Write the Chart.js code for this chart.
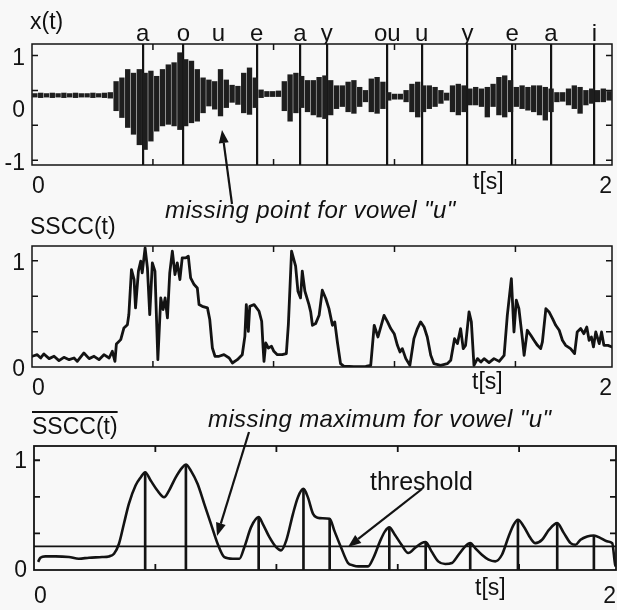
<!DOCTYPE html>
<html><head><meta charset="utf-8">
<script src="https://cdn.jsdelivr.net/npm/chart.js@4.4.1/dist/chart.umd.min.js"></script>
<style>
html,body{margin:0;padding:0;background:#f8f8f8;}
#wrap{position:relative;width:617px;height:610px;overflow:hidden;font-family:"Liberation Sans",Arial,sans-serif;color:#111;}
canvas{position:absolute;left:0;}
.lbl{position:absolute;white-space:nowrap;line-height:1;}
.it{font-style:italic;}
svg{position:absolute;left:0;top:0;}
</style></head><body>
<div id="wrap">
<canvas id="c1" width="617" height="200" style="top:0px"></canvas>
<canvas id="c2" width="617" height="200" style="top:200px"></canvas>
<canvas id="c3" width="617" height="210" style="top:400px"></canvas>
<div class="lbl" style="left:30px;top:10px;font-size:23px">x(t)</div>
<div class="lbl" style="left:473px;top:170px;font-size:23px">t[s]</div>
<div class="lbl it" style="left:165px;top:198px;font-size:24px;letter-spacing:0.4px">missing point for vowel "u"</div>
<div class="lbl" style="left:30px;top:215px;font-size:23px">SSCC(t)</div>
<div class="lbl" style="left:472px;top:370px;font-size:23px">t[s]</div>
<div class="lbl" style="left:32px;top:415px;font-size:23px;text-decoration:overline;text-decoration-thickness:1.5px">SSCC(t)</div>
<div class="lbl it" style="left:208px;top:407px;font-size:24px;letter-spacing:0.4px">missing maximum for vowel "u"</div>
<div class="lbl" style="left:370px;top:469px;font-size:25px">threshold</div>
<div class="lbl" style="left:475px;top:576px;font-size:23px">t[s]</div>
<svg id="arrows" width="617" height="610"></svg>
</div>
<script>
// ---------------- data ----------------
// vowel markers (panel 1)
const vowelNames = ['a','o','u','e','a','y','ou','u','y','e','a','i'];
const vowelTimes = [0.382,0.522,0.643,0.775,0.924,1.016,1.225,1.344,1.502,1.656,1.789,1.939];
const vowelMarked = [true,true,false,true,true,true,true,true,true,true,true,true];

// x(t) waveform envelope, 20 ms bins (centre time, lower and upper envelope)
const waveT = [0.01,0.03,0.05,0.07,0.09,0.11,0.13,0.15,0.17,0.19,0.21,0.23,0.25,0.27,0.29,0.31,0.33,0.35,0.37,0.39,
  0.41,0.43,0.45,0.47,0.49,0.51,0.53,0.55,0.57,0.59,0.61,0.63,0.65,0.67,0.69,0.71,0.73,0.75,0.77,0.79,
  0.81,0.83,0.85,0.87,0.89,0.91,0.93,0.95,0.97,0.99,1.01,1.03,1.05,1.07,1.09,1.11,1.13,1.15,1.17,1.19,
  1.21,1.23,1.25,1.27,1.29,1.31,1.33,1.35,1.37,1.39,1.41,1.43,1.45,1.47,1.49,1.51,1.53,1.55,1.57,1.59,
  1.61,1.63,1.65,1.67,1.69,1.71,1.73,1.75,1.77,1.79,1.81,1.83,1.85,1.87,1.89,1.91,1.93,1.95,1.97,1.99];
const waveHi = [0.28,0.29,0.28,0.29,0.28,0.29,0.28,0.29,0.28,0.28,0.29,0.28,0.29,0.30,0.51,0.58,0.74,0.67,0.74,0.67,
  0.71,0.61,0.74,0.83,0.87,1.06,0.93,0.90,0.74,0.58,0.54,0.51,0.74,0.54,0.44,0.42,0.67,0.77,0.58,0.35,
  0.32,0.32,0.33,0.51,0.64,0.67,0.61,0.53,0.53,0.59,0.62,0.53,0.43,0.43,0.50,0.53,0.40,0.34,0.56,0.59,
  0.50,0.30,0.27,0.27,0.34,0.46,0.50,0.43,0.43,0.40,0.34,0.29,0.43,0.46,0.43,0.37,0.40,0.37,0.40,0.46,
  0.59,0.62,0.53,0.40,0.43,0.40,0.43,0.43,0.40,0.37,0.30,0.30,0.37,0.43,0.40,0.34,0.37,0.34,0.37,0.32];
const waveLo = [0.20,0.19,0.20,0.19,0.20,0.19,0.20,0.19,0.20,0.20,0.19,0.20,0.19,0.18,-0.06,-0.19,-0.38,-0.51,-0.71,-0.80,
  -0.64,-0.45,-0.35,-0.32,-0.35,-0.42,-0.35,-0.29,-0.26,-0.10,0.03,-0.03,-0.16,0.00,0.10,0.06,-0.10,-0.13,0.00,0.19,
  0.21,0.21,0.21,-0.06,-0.26,-0.10,0.00,-0.08,-0.14,-0.18,-0.21,-0.14,-0.02,0.02,-0.08,-0.11,0.02,0.11,-0.08,-0.11,
  -0.02,0.14,0.16,0.16,0.11,-0.08,-0.18,-0.08,-0.02,0.02,0.08,0.14,-0.08,-0.14,-0.08,0.05,0.05,0.02,-0.18,0.02,
  -0.14,-0.18,-0.08,0.02,-0.02,-0.05,-0.08,-0.14,-0.24,-0.08,0.11,0.12,0.05,-0.02,-0.11,0.05,0.08,0.11,0.11,0.14];

// SSCC(t) (panel 2)
const ssccT = [0.001,0.018,0.030,0.041,0.059,0.076,0.093,0.110,0.128,0.145,0.156,0.179,0.197,0.214,0.231,0.248,0.266,0.277,0.286,0.291,
  0.306,0.317,0.329,0.334,0.343,0.352,0.357,0.367,0.375,0.380,0.390,0.398,0.406,0.415,0.424,0.434,0.444,0.452,0.459,0.467,
  0.475,0.484,0.493,0.501,0.510,0.518,0.530,0.539,0.547,0.559,0.570,0.576,0.587,0.605,0.613,0.622,0.631,0.645,0.662,0.680,
  0.691,0.708,0.725,0.734,0.739,0.746,0.751,0.766,0.783,0.792,0.797,0.800,0.806,0.815,0.826,0.834,0.846,0.863,0.877,0.884,
  0.895,0.909,0.917,0.926,0.932,0.941,0.955,0.961,0.967,0.978,0.990,1.001,1.013,1.024,1.036,1.044,1.053,1.064,1.076,1.093,
  1.110,1.133,1.151,1.168,1.180,1.193,1.214,1.226,1.237,1.249,1.260,1.269,1.277,1.289,1.303,1.317,1.329,1.340,1.352,1.363,
  1.375,1.386,1.409,1.432,1.444,1.457,1.467,1.478,1.487,1.495,1.507,1.515,1.524,1.536,1.548,1.559,1.576,1.593,1.611,1.628,
  1.639,1.653,1.662,1.670,1.679,1.691,1.697,1.708,1.720,1.731,1.743,1.754,1.760,1.772,1.783,1.795,1.806,1.818,1.829,1.840,
  1.857,1.871,1.880,1.892,1.903,1.913,1.921,1.929,1.936,1.944,1.956,1.964,1.972,1.986,2.000];
const ssccV = [0.101,0.116,0.085,0.123,0.079,0.101,0.060,0.091,0.069,0.085,0.053,0.132,0.079,0.101,0.069,0.116,0.085,0.148,0.053,0.217,
  0.258,0.368,0.399,0.494,0.918,0.824,0.557,0.903,0.997,0.887,1.123,0.934,0.494,0.981,0.903,0.069,0.651,0.541,0.651,0.462,
  0.887,1.091,0.871,0.981,0.824,1.028,1.028,1.044,0.840,0.777,0.745,0.588,0.572,0.557,0.447,0.179,0.101,0.101,0.116,0.085,
  0.038,0.069,0.116,0.289,0.588,0.336,0.572,0.588,0.525,0.431,0.179,0.053,0.226,0.179,0.195,0.148,0.116,0.116,0.126,0.399,
  1.091,0.950,0.714,0.651,0.903,0.714,0.588,0.519,0.393,0.409,0.487,0.723,0.645,0.550,0.393,0.425,0.236,0.031,0.005,0.005,
  0.003,0.003,0.005,0.016,0.393,0.283,0.487,0.425,0.362,0.314,0.204,0.142,0.173,0.079,0.016,0.267,0.362,0.425,0.377,0.283,
  0.110,0.031,0.016,0.031,0.063,0.267,0.220,0.362,0.173,0.204,0.519,0.425,0.016,0.079,0.047,0.079,0.041,0.079,0.053,0.110,
  0.487,0.833,0.330,0.629,0.550,0.267,0.110,0.346,0.299,0.252,0.204,0.173,0.236,0.550,0.519,0.456,0.393,0.346,0.252,0.204,
  0.173,0.126,0.330,0.362,0.314,0.377,0.252,0.283,0.189,0.330,0.220,0.330,0.204,0.204,0.189];

// smoothed SSCC(t) (panel 3)
const meanT = [0.014,0.022,0.039,0.074,0.120,0.154,0.189,0.234,0.257,0.275,0.292,0.309,0.326,0.349,0.367,0.382,0.401,0.424,0.447,0.464,
  0.487,0.510,0.522,0.539,0.562,0.585,0.608,0.631,0.654,0.683,0.706,0.723,0.746,0.772,0.786,0.809,0.832,0.849,0.867,0.890,
  0.907,0.926,0.941,0.959,0.982,1.016,1.033,1.056,1.079,1.097,1.114,1.148,1.166,1.189,1.206,1.221,1.240,1.263,1.286,1.309,
  1.332,1.346,1.366,1.389,1.413,1.436,1.459,1.482,1.499,1.516,1.539,1.562,1.585,1.608,1.631,1.648,1.663,1.683,1.706,1.723,
  1.746,1.770,1.798,1.821,1.844,1.861,1.878,1.901,1.924,1.947,1.970,1.987,1.997,2.000];
const meanV = [0.073,0.112,0.124,0.124,0.118,0.103,0.112,0.118,0.124,0.148,0.239,0.421,0.603,0.770,0.845,0.891,0.815,0.724,0.664,0.724,
  0.845,0.936,0.961,0.906,0.785,0.603,0.421,0.239,0.118,0.103,0.103,0.209,0.391,0.482,0.421,0.300,0.209,0.179,0.270,0.512,
  0.664,0.739,0.664,0.512,0.473,0.467,0.352,0.200,0.064,0.042,0.033,0.033,0.109,0.261,0.352,0.388,0.321,0.230,0.155,0.200,
  0.245,0.255,0.170,0.079,0.055,0.064,0.139,0.215,0.245,0.200,0.139,0.094,0.079,0.139,0.306,0.412,0.458,0.397,0.291,0.245,
  0.276,0.367,0.427,0.336,0.245,0.230,0.276,0.306,0.315,0.291,0.261,0.245,0.048,0.033];
const peakT = [0.382,0.522,0.772,0.926,1.016,1.221,1.346,1.499,1.663,1.798,1.924];
const peakV = [0.891,0.961,0.482,0.739,0.467,0.388,0.255,0.245,0.458,0.427,0.315];
const threshold = 0.215;

// axis labels / tick marks
const xLabelTicks = [0, 2];
const xMarkTicks = [0.417, 0.833, 1.25, 1.667];
const yLabels1 = [-1, 0, 1];
const yMarks1 = [-1, -0.333, 0.333, 1];
const yLabels23 = [0, 1];
const yMarks23 = [0.333, 0.667, 1];

// ---------------- helpers ----------------
const FONT = '"Liberation Sans", Arial, sans-serif';
const INK = '#131313';
Chart.defaults.animation = false;
Chart.defaults.color = INK;

const framePlugin = {
  id: 'frame',
  afterDraw(chart, args, o) {
    const {ctx, chartArea: a, scales} = chart;
    ctx.save();
    ctx.strokeStyle = INK;
    ctx.lineWidth = o.lw || 1.5;
    ctx.strokeRect(a.left, a.top, a.right - a.left, a.bottom - a.top);
    const L = 6;
    ctx.beginPath();
    (o.xMarks || []).forEach(v => {
      const p = scales.x.getPixelForValue(v);
      ctx.moveTo(p, a.bottom); ctx.lineTo(p, a.bottom - L);
      ctx.moveTo(p, a.top); ctx.lineTo(p, a.top + L);
    });
    (o.yMarks || []).forEach(v => {
      const p = scales.y.getPixelForValue(v);
      ctx.moveTo(a.left, p); ctx.lineTo(a.left + L, p);
      ctx.moveTo(a.right, p); ctx.lineTo(a.right - L, p);
    });
    ctx.stroke();
    ctx.restore();
  }
};

function fitX(h) {
  return s => { s.height = h; s.paddingLeft = 0; s.paddingRight = 0; };
}
function xBottom(pad, h) {
  return {
    type: 'linear', position: 'bottom', min: 0, max: 2, offset: false,
    afterBuildTicks: s => { s.ticks = xLabelTicks.map(v => ({value: v})); },
    afterFit: fitX(h),
    grid: {display: false, drawTicks: false, offset: false}, border: {display: false},
    ticks: {align: 'inner', autoSkip: false, maxRotation: 0, padding: pad, color: INK,
      font: {family: FONT, size: 23}, callback: v => String(v)}
  };
}
function yAxis(min, max, labels, w, lo) {
  return {
    type: 'linear', min: min, max: max,
    afterBuildTicks: s => { s.ticks = labels.map(v => ({value: v})); },
    afterFit: s => { s.width = w; s.paddingTop = 0; s.paddingBottom = 0; },
    grid: {display: false, drawTicks: false}, border: {display: false},
    ticks: {padding: 7, labelOffset: lo, color: INK, font: {family: FONT, size: 23}, callback: v => String(v)}
  };
}
const basePlugins = {legend: {display: false}, tooltip: {enabled: false}};

// ---------------- panel 1 : x(t) ----------------
new Chart(document.getElementById('c1'), {
  type: 'bar',
  data: {datasets: [{
    data: waveT.map((t, i) => ({x: t, y: [waveLo[i], waveHi[i]]})),
    backgroundColor: '#1e1e1e', borderWidth: 0,
    barPercentage: 0.92, categoryPercentage: 1
  }]},
  options: {
    responsive: false, devicePixelRatio: 1,
    layout: {padding: {top: 0, right: 5, bottom: 0, left: 0}},
    plugins: Object.assign({}, basePlugins, {frame: {lw: 1.5, xMarks: xMarkTicks, yMarks: yMarks1}}),
    scales: {
      x: xBottom(8, 35),
      xTop: {
        type: 'linear', position: 'top', min: 0, max: 2, offset: false,
        afterBuildTicks: s => { s.ticks = vowelTimes.map(v => ({value: v})); },
        afterFit: fitX(44),
        grid: {display: true, drawTicks: false, drawOnChartArea: true, offset: false, lineWidth: 2.2,
          color: c => vowelMarked[c.index] ? INK : 'rgba(0,0,0,0)'},
        border: {display: false},
        ticks: {autoSkip: false, maxRotation: 0, padding: -2, color: INK,
          font: {family: FONT, size: 24, lineHeight: 1},
          callback: (v, i) => vowelNames[i]}
      },
      y: yAxis(-1.09, 1.22, yLabels1, 32, 3)
    }
  },
  plugins: [framePlugin]
});

// ---------------- panel 2 : SSCC(t) ----------------
new Chart(document.getElementById('c2'), {
  type: 'line',
  data: {datasets: [{
    data: ssccT.map((t, i) => ({x: t, y: ssccV[i]})),
    borderColor: INK, borderWidth: 2.8, pointRadius: 0, tension: 0,
    borderJoinStyle: 'round', borderCapStyle: 'round'
  }]},
  options: {
    responsive: false, devicePixelRatio: 1,
    layout: {padding: {top: 46, right: 5, bottom: 0, left: 0}},
    plugins: Object.assign({}, basePlugins, {frame: {lw: 1.5, xMarks: xMarkTicks, yMarks: yMarks23}}),
    scales: {
      x: xBottom(8, 33),
      y: yAxis(0, 1.14, yLabels23, 32, 3)
    }
  },
  plugins: [framePlugin]
});

// ---------------- panel 3 : smoothed SSCC(t) ----------------
new Chart(document.getElementById('c3'), {
  type: 'line',
  data: {datasets: [
    {type: 'line', data: meanT.map((t, i) => ({x: t, y: meanV[i]})),
      borderColor: INK, borderWidth: 2.6, pointRadius: 0, tension: 0.25, cubicInterpolationMode: 'monotone',
      borderJoinStyle: 'round'},
    {type: 'line', data: [{x: 0, y: threshold}, {x: 2, y: threshold}],
      borderColor: INK, borderWidth: 1.8, pointRadius: 0},
    {type: 'bar', data: peakT.map((t, i) => ({x: t, y: peakV[i]})),
      backgroundColor: INK, barThickness: 2, borderWidth: 0}
  ]},
  options: {
    responsive: false, devicePixelRatio: 1,
    layout: {padding: {top: 46, right: 1, bottom: 0, left: 0}},
    plugins: Object.assign({}, basePlugins, {frame: {lw: 1.8, xMarks: xMarkTicks, yMarks: yMarks23}}),
    scales: {
      x: xBottom(13, 40),
      y: yAxis(0, 1.13, yLabels23, 34, 1)
    }
  },
  plugins: [framePlugin]
});

// ---------------- annotation arrows ----------------
const arrows = [[232, 204, 222, 130], [249, 432, 217, 536], [422, 489, 348, 547]];
const svg = document.getElementById('arrows');
const NS = 'http://www.w3.org/2000/svg';
arrows.forEach(([x1, y1, x2, y2]) => {
  const dx = x2 - x1, dy = y2 - y1, len = Math.hypot(dx, dy);
  const ux = dx / len, uy = dy / len, hl = 13, hw = 5;
  const bx = x2 - ux * hl, by = y2 - uy * hl;
  const ln = document.createElementNS(NS, 'line');
  ln.setAttribute('x1', x1); ln.setAttribute('y1', y1);
  ln.setAttribute('x2', bx); ln.setAttribute('y2', by);
  ln.setAttribute('stroke', INK); ln.setAttribute('stroke-width', '2.2');
  svg.appendChild(ln);
  const pg = document.createElementNS(NS, 'polygon');
  pg.setAttribute('points', `${x2},${y2} ${bx - uy * hw},${by + ux * hw} ${bx + uy * hw},${by - ux * hw}`);
  pg.setAttribute('fill', INK);
  svg.appendChild(pg);
});
</script>
</body></html>
